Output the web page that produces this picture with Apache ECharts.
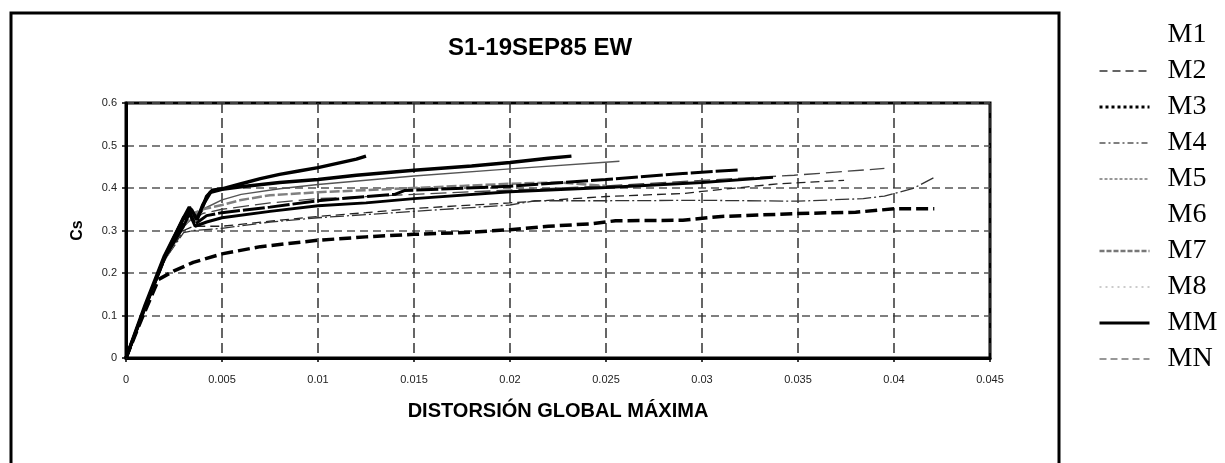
<!DOCTYPE html>
<html>
<head>
<meta charset="utf-8">
<script src="https://cdn.jsdelivr.net/npm/echarts@6/dist/echarts.min.js"></script>
<style>
html,body{margin:0;padding:0;background:#fff;}
#chart{width:1225px;height:463px;}
</style>
</head>
<body>
<div id="chart"></div>
<script>
const titleText = 'S1-19SEP85 EW';
const xName = 'DISTORSIÓN GLOBAL MÁXIMA';
const yName = 'Cs';
const xTickLabels = ['0','0.005','0.01','0.015','0.02','0.025','0.03','0.035','0.04','0.045'];
const yTickLabels = ['0','0.1','0.2','0.3','0.4','0.5','0.6'];
const seriesNames = ['M1','M2','M3','M4','M5','M6','M7','M8','MM','MN'];

const m1 = [[0,0],[0.001,0.125],[0.002,0.24],[0.003,0.33],[0.0033,0.355],[0.0036,0.33],[0.0039,0.345],[0.0042,0.38],[0.0045,0.395],[0.005,0.398],[0.006,0.41],[0.007,0.422],[0.008,0.432],[0.009,0.44],[0.01,0.448],[0.011,0.458],[0.012,0.468],[0.0125,0.475]];
const m2 = [[0,0],[0.001,0.12],[0.002,0.23],[0.003,0.3],[0.0035,0.31],[0.005,0.31],[0.0075,0.322],[0.01,0.333],[0.0125,0.342],[0.015,0.352],[0.02,0.365],[0.025,0.38],[0.029,0.387],[0.03,0.392],[0.034,0.41],[0.0374,0.418]];
const m3 = [[0,0],[0.0008,0.09],[0.0017,0.185],[0.0025,0.205],[0.0035,0.225],[0.005,0.245],[0.007,0.262],[0.01,0.277],[0.0125,0.285],[0.015,0.291],[0.018,0.296],[0.02,0.302],[0.022,0.31],[0.0243,0.316],[0.0255,0.323],[0.029,0.324],[0.031,0.333],[0.035,0.34],[0.038,0.343],[0.04,0.351],[0.0421,0.351]];
const m4 = [[0,0],[0.001,0.12],[0.002,0.23],[0.003,0.295],[0.0035,0.3],[0.005,0.305],[0.0075,0.32],[0.01,0.33],[0.015,0.345],[0.02,0.36],[0.0213,0.37],[0.025,0.37],[0.03,0.371],[0.035,0.369],[0.0384,0.375],[0.0395,0.381],[0.0402,0.389],[0.041,0.399],[0.0421,0.425]];
const m5 = [[0,0],[0.001,0.12],[0.002,0.23],[0.003,0.31],[0.004,0.34],[0.005,0.35],[0.0075,0.365],[0.01,0.375],[0.015,0.385],[0.02,0.395],[0.025,0.405],[0.03,0.418],[0.0348,0.43],[0.0395,0.446]];
const m6 = [[0,0],[0.001,0.12],[0.002,0.23],[0.003,0.31],[0.0035,0.33],[0.004,0.35],[0.005,0.372],[0.006,0.385],[0.008,0.398],[0.01,0.408],[0.015,0.428],[0.02,0.445],[0.0257,0.463]];
const m7 = [[0,0],[0.001,0.12],[0.002,0.23],[0.003,0.31],[0.0035,0.34],[0.004,0.35],[0.005,0.36],[0.006,0.372],[0.0075,0.383],[0.01,0.39],[0.0125,0.395],[0.015,0.4],[0.0175,0.405],[0.02,0.41],[0.0225,0.413],[0.025,0.405]];
const m8 = [[0,0],[0.001,0.12],[0.002,0.235],[0.003,0.31],[0.0033,0.34],[0.0036,0.31],[0.0042,0.32],[0.005,0.33],[0.0075,0.345],[0.01,0.358],[0.0125,0.365],[0.015,0.375],[0.02,0.391],[0.025,0.401],[0.03,0.413],[0.0337,0.425]];
const mm = [[0,0],[0.001,0.12],[0.002,0.235],[0.003,0.33],[0.0034,0.35],[0.0037,0.325],[0.004,0.36],[0.0044,0.39],[0.005,0.397],[0.006,0.403],[0.008,0.413],[0.01,0.42],[0.012,0.43],[0.015,0.442],[0.018,0.452],[0.02,0.46],[0.022,0.47],[0.0232,0.475]];
const mn = [[0,0],[0.001,0.12],[0.002,0.235],[0.003,0.32],[0.0033,0.345],[0.0036,0.315],[0.0042,0.335],[0.005,0.342],[0.0075,0.355],[0.01,0.37],[0.0125,0.38],[0.014,0.385],[0.0145,0.394],[0.02,0.404],[0.025,0.42],[0.029,0.434],[0.032,0.443]];
const seriesData = [m1,m2,m3,m4,m5,m6,m7,m8,mm,mn];

const plotStyles = [
  {color:'#000', width:3.5, type:'solid'},
  {color:'#222', width:1.3, type:[9,5]},
  {color:'#000', width:3.5, type:[12,5]},
  {color:'#333', width:1.3, type:[14,3,2,3]},
  {color:'#444', width:1.3, type:[16,6]},
  {color:'#555', width:1.5, type:'solid'},
  {color:'#808080', width:2.5, type:[10,3]},
  {color:'#000', width:3, type:'solid'},
  {color:'#000', width:3.5, type:'solid'},
  {color:'#000', width:3, type:[22,3]}
];
const legendStyles = [
  {color:'#fff', width:1, type:'solid', opacity:0},
  {color:'#333', width:1.5, type:[8,5]},
  {color:'#000', width:3, type:[3,3]},
  {color:'#555', width:1.3, type:[6,3,2,3]},
  {color:'#777', width:1.3, type:[3,2]},
  {color:'#fff', width:1, type:'solid', opacity:0},
  {color:'#777', width:2.5, type:[5,2]},
  {color:'#bbb', width:1.3, type:[2,4]},
  {color:'#000', width:3, type:'solid'},
  {color:'#777', width:1.5, type:[7,4]}
];

const chart = echarts.init(document.getElementById('chart'), null, {renderer:'canvas'});
const option = {
  animation:false,
  backgroundColor:'#fff',
  title:{
    text:titleText, left:443, top:31,
    textStyle:{fontFamily:'Liberation Sans', fontWeight:'bold', fontSize:24, color:'#000'}
  },
  legend:{
    orient:'vertical', left:1093, top:16, itemWidth:50, itemHeight:14, itemGap:8,
    selectedMode:false,
    textStyle:{fontFamily:'Liberation Serif', fontSize:28, color:'#000', padding:[0,0,0,13]},
    data: seriesNames.map((n,i)=>({name:n, lineStyle:legendStyles[i], itemStyle:{opacity:0}}))
  },
  grid:{left:126, right:235, top:103, bottom:105, show:true, borderColor:'#000', borderWidth:3, backgroundColor:'transparent'},
  xAxis:{
    type:'value', min:0, max:0.045, interval:0.005,
    name:xName, nameLocation:'middle', nameGap:43,
    nameTextStyle:{fontFamily:'Liberation Sans', fontWeight:'bold', fontSize:20, color:'#000'},
    axisLine:{show:true, onZero:false, lineStyle:{color:'#000', width:3}},
    axisTick:{show:true, length:4, lineStyle:{color:'#000', width:1.5}},
    axisLabel:{margin:16, fontFamily:'Liberation Sans', fontSize:11, color:'#222', formatter:(v,i)=>xTickLabels[i]},
    splitLine:{show:true, lineStyle:{color:'#333', width:1.5, type:[10,5]}}
  },
  yAxis:{
    type:'value', min:0, max:0.6, interval:0.1,
    name:yName, nameLocation:'middle', nameGap:40, nameRotate:90,
    nameTextStyle:{fontFamily:'Liberation Sans', fontWeight:'bold', fontSize:16, color:'#000'},
    axisLine:{show:true, lineStyle:{color:'#000', width:3}},
    axisTick:{show:true, length:4, lineStyle:{color:'#000', width:1.5}},
    axisLabel:{margin:9, fontFamily:'Liberation Sans', fontSize:11, color:'#222', formatter:(v,i)=>yTickLabels[i]},
    splitLine:{show:true, lineStyle:{color:'#555', width:1.5, type:[8,5]}}
  },
  graphic:[{
    type:'rect', silent:true, z:-1,
    shape:{x:11, y:13, width:1048, height:470},
    style:{fill:'none', stroke:'#000', lineWidth:3}
  }],
  series: seriesNames.map((n,i)=>({
    name:n, type:'line', data:seriesData[i], symbol:'none', showSymbol:false,
    lineStyle:plotStyles[i], itemStyle:{color:plotStyles[i].color},
    emphasis:{disabled:true}
  }))
};
chart.setOption(option);
</script>
</body>
</html>
